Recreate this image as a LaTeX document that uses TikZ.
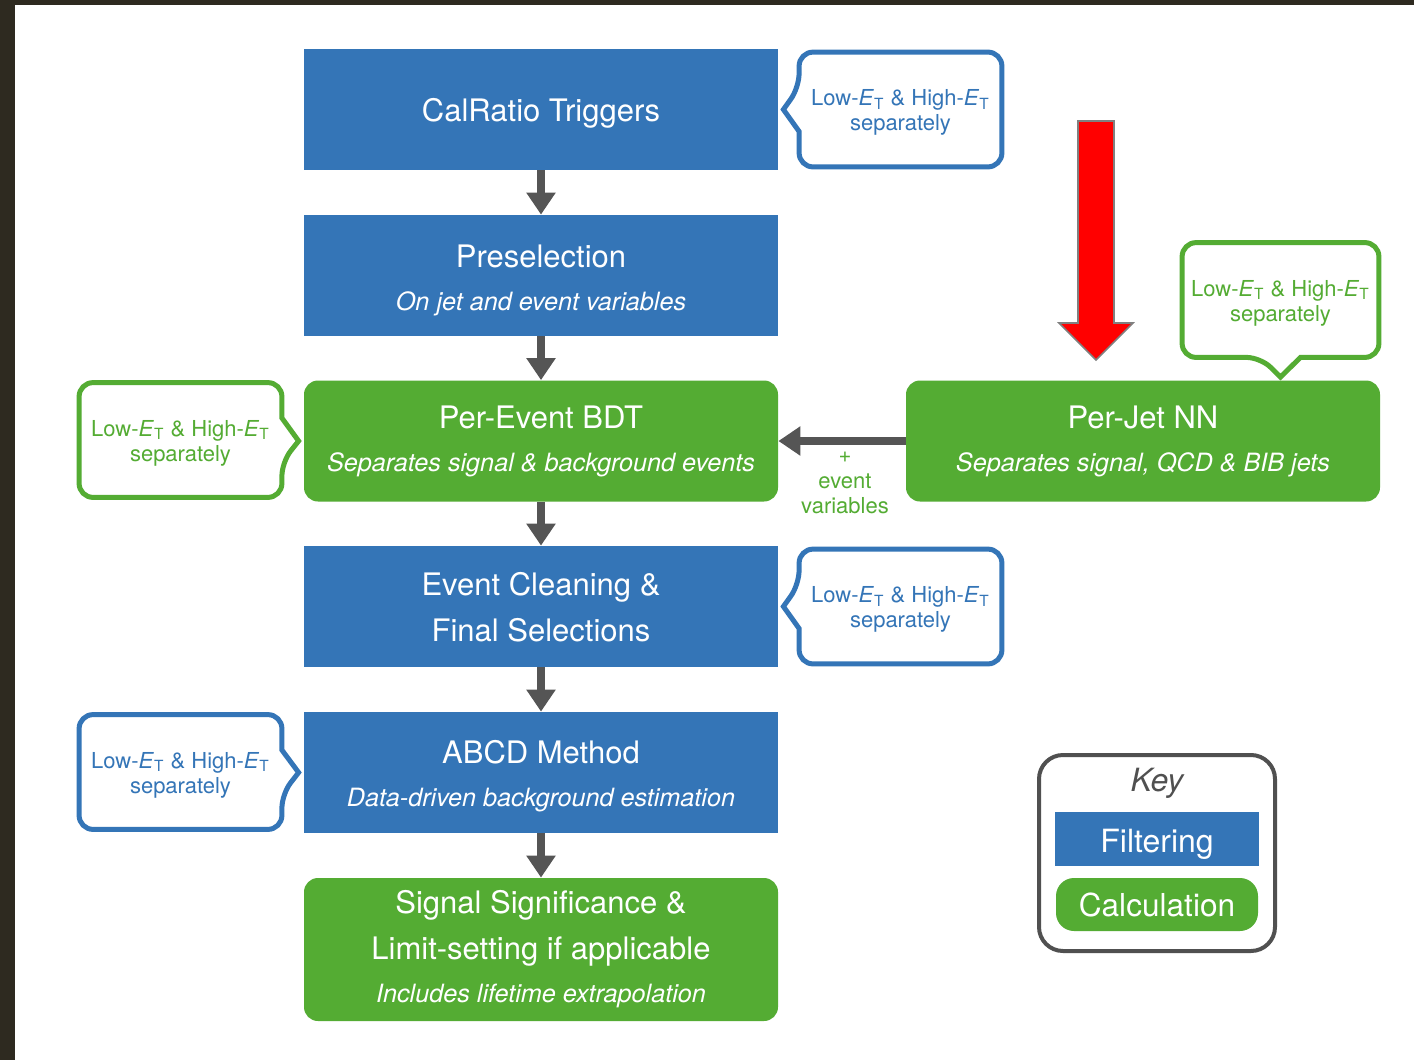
\documentclass[tikz,border=0pt]{standalone}
\usepackage{fontspec}
\setmainfont{TeX Gyre Heros}
\usepackage{xcolor}
\usetikzlibrary{arrows.meta,positioning}
\definecolor{filtc}{RGB}{52,117,183}
\definecolor{calcc}{RGB}{84,172,51}
\definecolor{flowc}{RGB}{85,85,85}
\definecolor{keyc}{RGB}{80,80,80}
\definecolor{framec}{RGB}{46,42,32}
\newcommand{\lohi}{\rule{0pt}{11pt}Low-\textit{E}\textsubscript{T} \& High-\textit{E}\textsubscript{T}\\separately}
\newcommand{\subline}[1]{{\fontsize{12.6}{15}\selectfont\itshape #1}}
\tikzset{
  filtbox/.style={fill=filtc, text=white, minimum width=237pt, minimum height=60.5pt,
    align=center, inner sep=0pt, font=\fontsize{15.5}{23}\selectfont,
    execute at begin node={\rule{0pt}{15pt}}},
  calcbox/.style={filtbox, fill=calcc, rounded corners=7pt},
  flow/.style={draw=flowc, line width=4pt, -{Triangle[width=14pt,length=11pt]}},
  note/.style={minimum width=101pt, minimum height=57pt, align=center, inner sep=0pt,
    font=\fontsize{11}{12.5}\selectfont},
  noteline/.style={line width=2.5pt, rounded corners=7pt},
}
\begin{document}
\begin{tikzpicture}[x=0.5pt,y=-0.5pt]
\useasboundingbox (0,0) rectangle (1414,1060);
\fill[white] (0,0) rectangle (1414,1060);
\fill[framec] (0,0) rectangle (1414,5);
\fill[framec] (0,0) rectangle (15,1060);
% main chain
\node[filtbox] (trig) at (541,109.5) {CalRatio Triggers};
\node[filtbox] (presel) at (541,275.5) {\rule{0pt}{16.2pt}Preselection\\[-1.5pt]\subline{On jet and event variables}};
\node[calcbox] (bdt) at (541,441) {Per-Event BDT\\[-1.5pt]\subline{Separates signal \& background events}};
\node[filtbox] (clean) at (541,606.5) {\rule{0pt}{12.5pt}Event Cleaning \&\\Final Selections};
\node[filtbox] (abcd) at (541,772.5) {\rule{0pt}{15.3pt}ABCD Method\\[-1.5pt]\subline{Data-driven background estimation}};
\node[calcbox, minimum height=71.5pt] (sig) at (541,949.5) {Signal Significance \&\\Limit-setting if applicable\\[-1.5pt]\subline{Includes lifetime extrapolation}};
\node[calcbox] (nn) at (1143,441) {Per-Jet NN\\[-1.5pt]\subline{Separates signal, QCD \& BIB jets}};
\draw[flow] (trig) -- (presel);
\draw[flow] (presel) -- (bdt);
\draw[flow] (bdt) -- (clean);
\draw[flow] (clean) -- (abcd);
\draw[flow] (abcd) -- (sig);
\draw[flow] (nn) -- (bdt);
\node[text=calcc, align=center, font=\fontsize{11}{12.75}\selectfont] (evvar) at (845,483) {+\\event\\variables};
% notes
\node[note, text=filtc] (trignote) at (900.5,109.5) {\lohi};
\draw[noteline, filtc] ([yshift=-11pt]trignote.west) -- (trignote.south west) -- (trignote.south east)
  -- (trignote.north east) -- (trignote.north west) -- ([yshift=11pt]trignote.west) [sharp corners]
  -- ([xshift=2.5pt]trig.east) -- cycle;
\node[note, text=filtc] (cleannote) at (900.5,606.5) {\lohi};
\draw[noteline, filtc] ([yshift=-11pt]cleannote.west) -- (cleannote.south west) -- (cleannote.south east)
  -- (cleannote.north east) -- (cleannote.north west) -- ([yshift=11pt]cleannote.west) [sharp corners]
  -- ([xshift=2.5pt]clean.east) -- cycle;
\node[note, text=calcc] (bdtnote) at (180.5,440) {\lohi};
\draw[noteline, calcc] ([yshift=11pt]bdtnote.east) -- (bdtnote.north east) -- (bdtnote.north west)
  -- (bdtnote.south west) -- (bdtnote.south east) -- ([yshift=-11pt]bdtnote.east) [sharp corners]
  -- ([xshift=-2.5pt]bdt.west) -- cycle;
\node[note, text=filtc] (abcdnote) at (180.5,772) {\lohi};
\draw[noteline, filtc] ([yshift=11pt]abcdnote.east) -- (abcdnote.north east) -- (abcdnote.north west)
  -- (abcdnote.south west) -- (abcdnote.south east) -- ([yshift=-11pt]abcdnote.east) [sharp corners]
  -- ([xshift=-2.5pt]abcd.west) -- cycle;
\node[note, text=calcc, minimum width=98pt] (nnnote) at (1280.5,300) {\lohi};
\coordinate (nntip) at (1280.5,377);
\draw[noteline, calcc] ([xshift=10pt]nnnote.south) -- (nnnote.south east) -- (nnnote.north east)
  -- (nnnote.north west) -- (nnnote.south west) -- ([xshift=-10pt]nnnote.south) [sharp corners]
  -- (nntip) -- cycle;
% red arrow
\fill[red, draw=gray, line width=0.8pt] (1078,121) -- (1114,121) -- (1114,323) -- (1133,323)
  -- (1096,360) -- (1059,323) -- (1078,323) -- cycle;
% key
\node[draw=keyc, line width=2pt, rounded corners=12pt, minimum width=118pt, minimum height=98pt] (key) at (1157,853) {};
\node[text=keyc, font=\fontsize{16}{18}\selectfont\itshape] (keytitle) at (1157,783) {Key};
\node[filtbox, minimum width=102pt, minimum height=27pt, font=\fontsize{16}{18}\selectfont,
  execute at begin node={\rule{0pt}{17pt}}] (keyfilt) at (1157,839) {Filtering};
\node[calcbox, rounded corners=9pt, minimum width=101pt, minimum height=26.5pt, font=\fontsize{15.8}{18}\selectfont,
  execute at begin node={}, text depth=3pt] (keycalc) at (1157,904.5) {Calculation};
\end{tikzpicture}
\end{document}
